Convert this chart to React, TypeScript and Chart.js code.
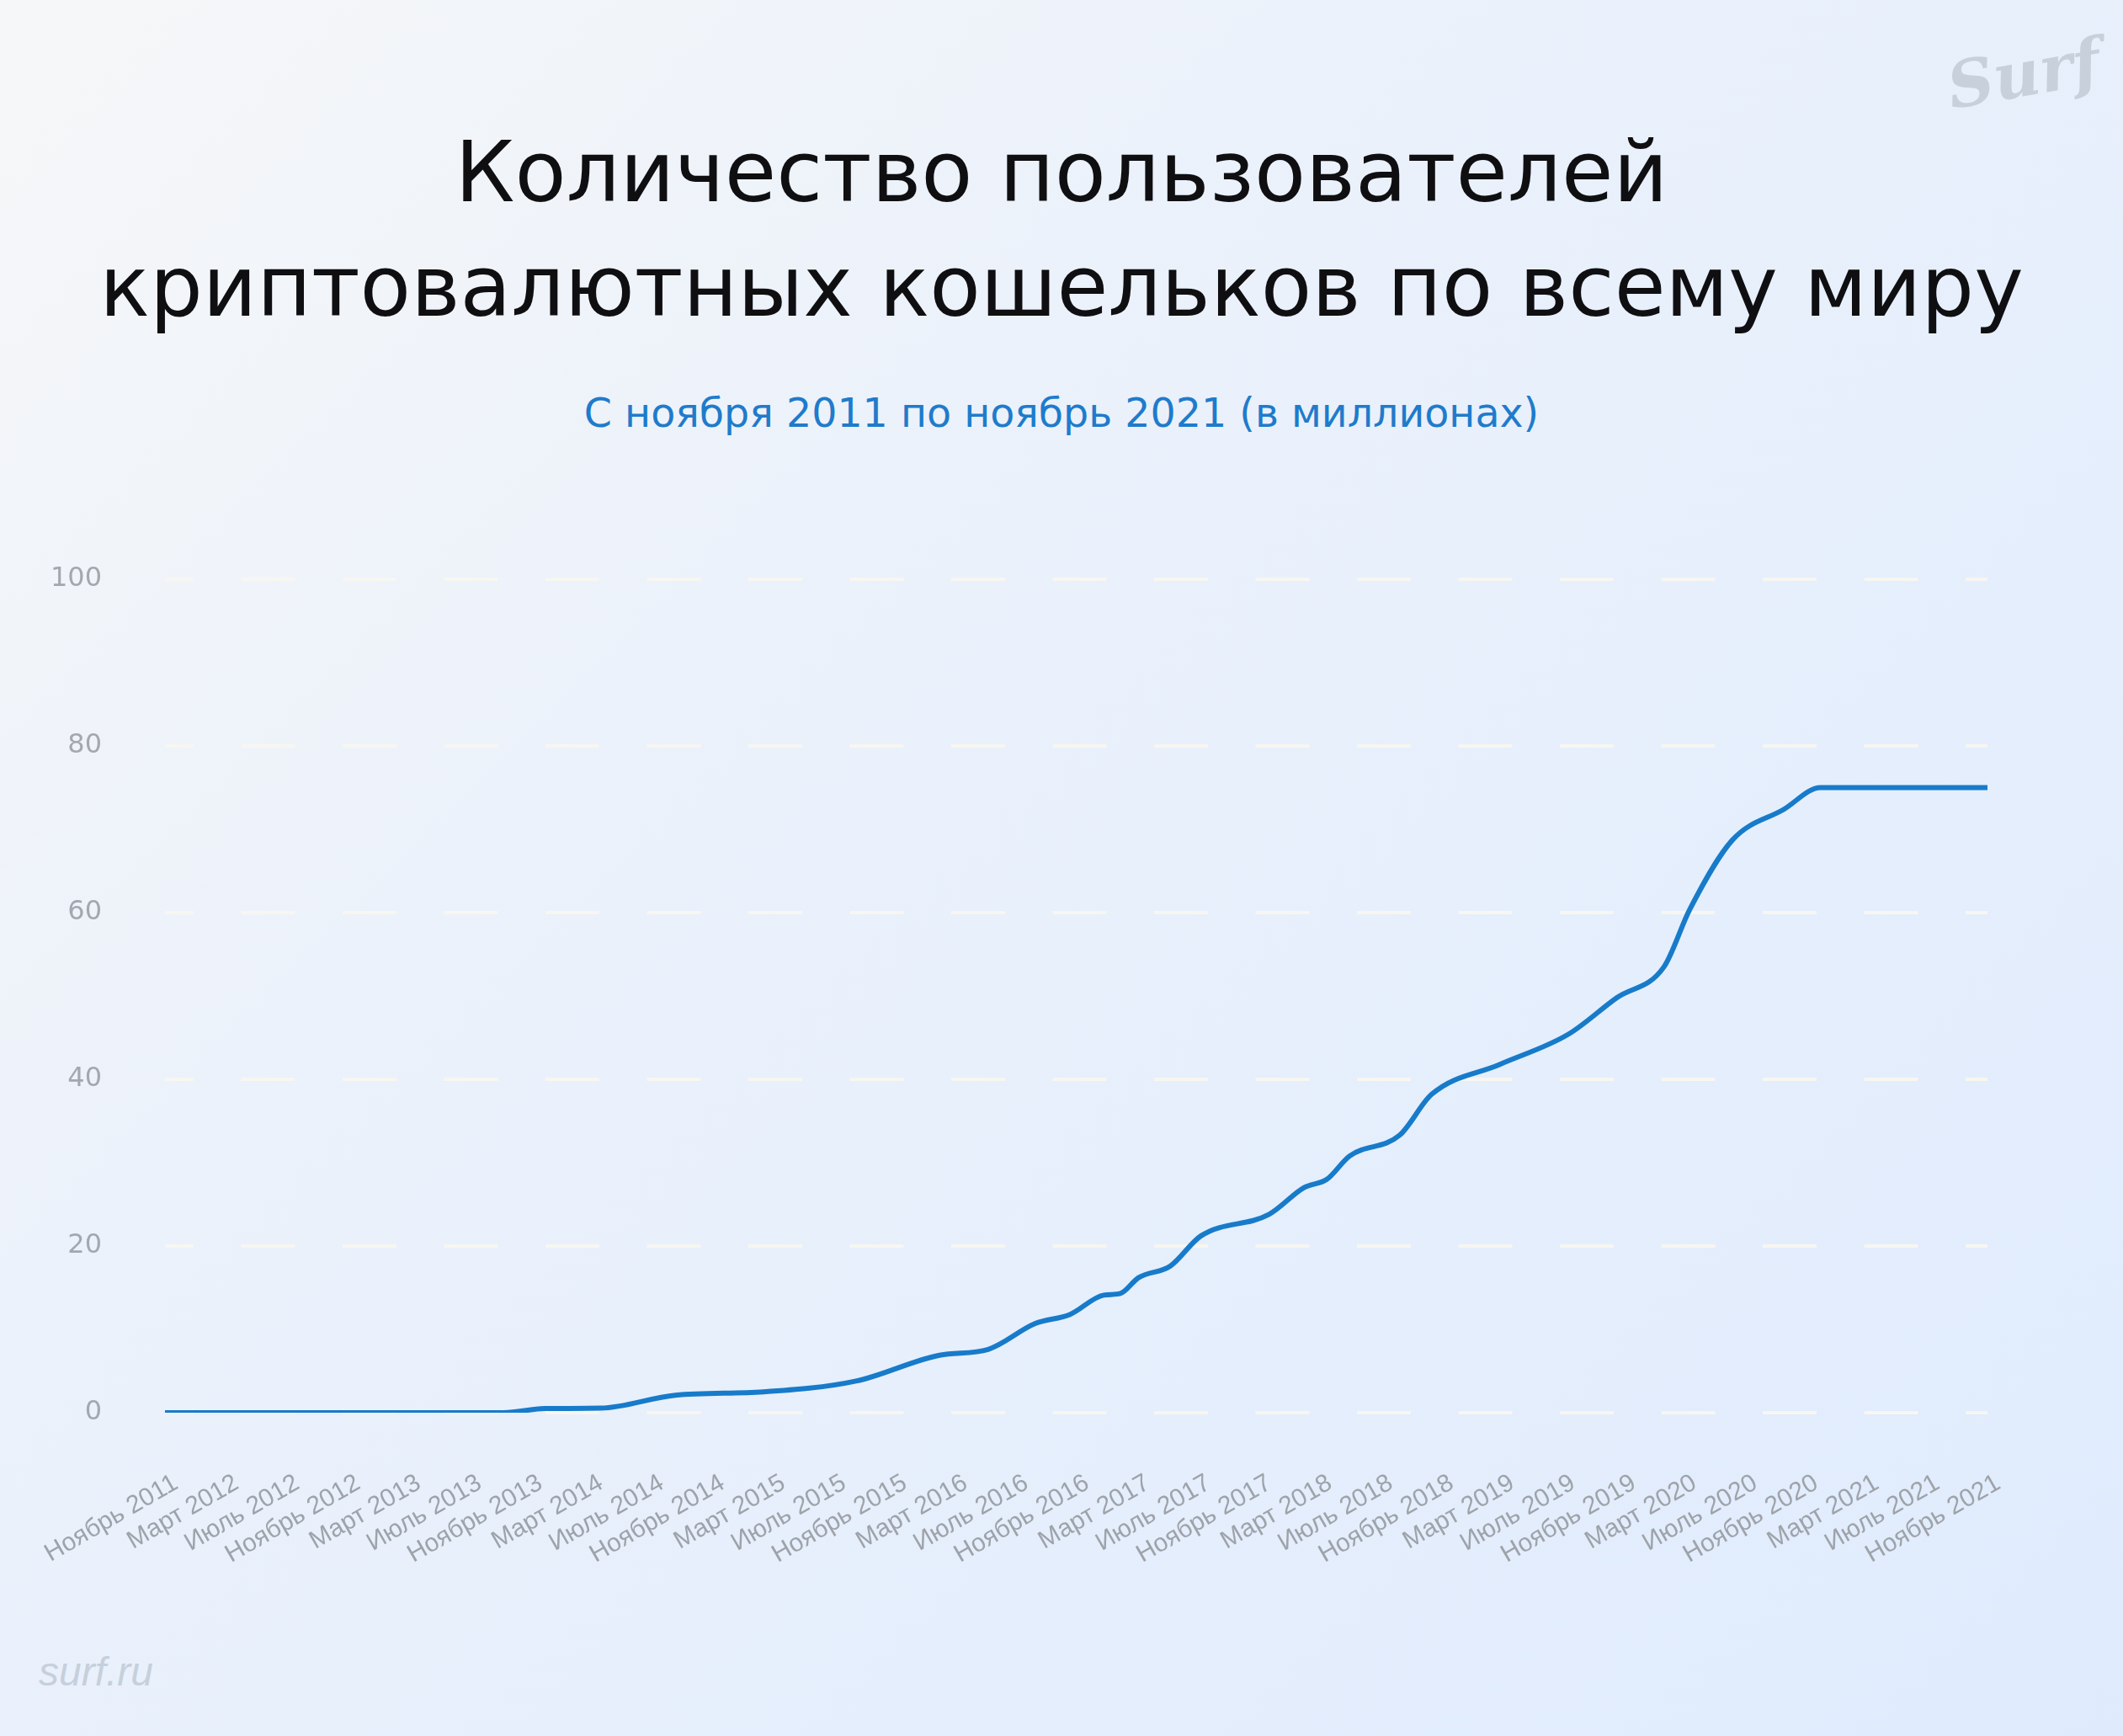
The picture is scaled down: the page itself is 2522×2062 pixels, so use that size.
import React, { useEffect, useRef } from "react";
import { Chart, registerables } from "chart.js";

Chart.register(...registerables);

// Month offsets from November 2011 (0) to November 2021 (120)
const pointMonths = [0, 22.3, 25, 28.7, 33.6, 39.4, 45.5, 51, 54.2, 57.3, 59.6, 61.8, 62.9, 64.1, 66.2, 68.2, 72.7, 75, 76.5, 78, 81.3, 83.4, 87.9, 92.4, 95.6, 98.7, 100.4, 103.2, 106.6, 109, 120];
// Wallet users, millions
const walletUsers = [0, 0, 0.5, 0.55, 2.1, 2.5, 3.8, 6.9, 7.6, 10.7, 11.8, 14.1, 14.3, 16.2, 17.6, 21.2, 23.8, 27.0, 28.0, 30.8, 33.3, 38.2, 41.8, 45.4, 49.8, 53.5, 60.4, 68.7, 72.4, 75.0, 75.0];

const tickLabels = [
  "Ноябрь 2011", "Март 2012", "Июль 2012", "Ноябрь 2012", "Март 2013", "Июль 2013",
  "Ноябрь 2013", "Март 2014", "Июль 2014", "Ноябрь 2014", "Март 2015", "Июль 2015",
  "Ноябрь 2015", "Март 2016", "Июль 2016", "Ноябрь 2016", "Март 2017", "Июль 2017",
  "Ноябрь 2017", "Март 2018", "Июль 2018", "Ноябрь 2018", "Март 2019", "Июль 2019",
  "Ноябрь 2019", "Март 2020", "Июль 2020", "Ноябрь 2020", "Март 2021", "Июль 2021",
  "Ноябрь 2021",
];
const tickStepMonths = 4;
const yTicks = [0, 20, 40, 60, 80, 100];

const titleLines = ["Количество пользователей", "криптовалютных кошельков по всему миру"];
const subtitle = "С ноября 2011 по ноябрь 2021 (в миллионах)";

export default function App() {
  const canvasRef = useRef<HTMLCanvasElement | null>(null);

  useEffect(() => {
    const canvas = canvasRef.current;
    if (!canvas) return;
    const chart = new Chart(canvas, {
      type: "line",
      data: {
        datasets: [
          {
            data: pointMonths.map((m, i) => ({ x: m, y: walletUsers[i] })),
            borderColor: "#177bca",
            borderWidth: 6,
            pointRadius: 0,
            pointHoverRadius: 0,
            cubicInterpolationMode: "monotone",
            borderCapStyle: "round",
            borderJoinStyle: "round",
            fill: false,
          },
        ],
      },
      options: {
        responsive: false,
        animation: false,
        devicePixelRatio: 1,
        layout: { padding: { top: 688, right: 161, bottom: 0, left: 0 } },
        plugins: {
          legend: { display: false },
          tooltip: { enabled: false },
          title: { display: false },
        },
        scales: {
          x: {
            type: "linear",
            min: 0,
            max: 120,
            afterBuildTicks: (s: any) => {
              s.ticks = tickLabels.map((_, i) => ({ value: i * tickStepMonths }));
            },
            afterFit: (s: any) => {
              s.height = 384;
              s.paddingLeft = 0;
              s.paddingRight = 0;
            },
            grid: { display: false, drawTicks: false },
            border: { display: false },
            ticks: {
              autoSkip: false,
              maxRotation: 30,
              minRotation: 30,
              padding: 66,
              labelOffset: 13,
              color: "#9ea3aa",
              font: { family: "Liberation Sans", size: 30 },
              callback: (v: any) => tickLabels[Math.round(Number(v) / tickStepMonths)] ?? "",
            },
          },
          y: {
            min: 0,
            max: 100,
            afterBuildTicks: (s: any) => {
              s.ticks = yTicks.map((v) => ({ value: v }));
            },
            afterFit: (s: any) => {
              s.width = 196;
            },
            grid: { color: "#f7f6f1", lineWidth: 4, drawTicks: false },
            border: { display: false, dash: [64, 56.5], dashOffset: 30 },
            ticks: {
              padding: 75,
              color: "#a3a8b0",
              font: { family: "DejaVu Sans", size: 32 },
            },
          },
        },
      },
    } as any);
    return () => chart.destroy();
  }, []);

  return (
    <div
      style={{
        position: "fixed",
        left: 0,
        top: 0,
        width: 2522,
        height: 2062,
        overflow: "hidden",
        background: "linear-gradient(135deg, #f6f7f8 0%, #eaf1fb 40%, #dfebfd 100%)",
      }}
    >
      <div
        style={{
          position: "absolute",
          left: 0,
          width: 2522,
          top: 137,
          textAlign: "center",
          fontFamily: "'DejaVu Sans', sans-serif",
          fontSize: 100,
          lineHeight: "136px",
          color: "#0f0f12",
          whiteSpace: "nowrap",
        }}
      >
        <div>{titleLines[0]}</div>
        <div style={{ fontSize: 99 }}>{titleLines[1]}</div>
      </div>
      <div
        style={{
          position: "absolute",
          left: 0,
          width: 2522,
          top: 461,
          textAlign: "center",
          fontFamily: "'DejaVu Sans', sans-serif",
          fontSize: 47.5,
          lineHeight: "60px",
          color: "#1f7bcb",
          whiteSpace: "nowrap",
        }}
      >
        {subtitle}
      </div>
      <div
        style={{
          position: "absolute",
          left: 2322,
          top: 58,
          fontFamily: "'DejaVu Serif', serif",
          fontStyle: "italic",
          fontWeight: "bold",
          fontSize: 76,
          lineHeight: "90px",
          color: "#c8d0db",
          transform: "rotate(-10deg)",
          transformOrigin: "left bottom",
        }}
      >
        Surf
      </div>
      <div
        style={{
          position: "absolute",
          left: 46,
          top: 1958,
          fontFamily: "'Liberation Sans', sans-serif",
          fontStyle: "italic",
          fontSize: 48,
          color: "#c6d0dc",
        }}
      >
        surf.ru
      </div>
      <canvas
        ref={canvasRef}
        width={2522}
        height={2062}
        style={{ position: "absolute", left: 0, top: 0, width: 2522, height: 2062 }}
      />
    </div>
  );
}
